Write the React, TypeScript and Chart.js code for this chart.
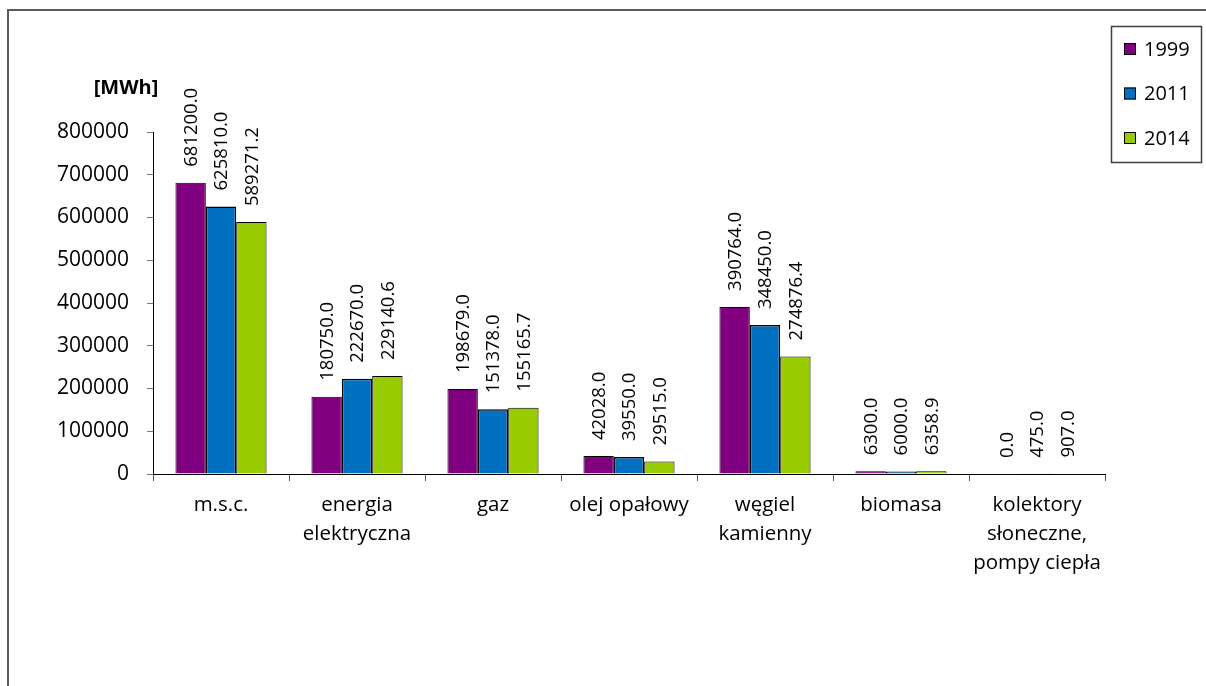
import React, { useEffect, useRef } from "react";
import { Chart, registerables } from "chart.js";

Chart.register(...registerables);

const categories: string[][] = [
  ["m.s.c."],
  ["energia", "elektryczna"],
  ["gaz"],
  ["olej opałowy"],
  ["węgiel", "kamienny"],
  ["biomasa"],
  ["kolektory", "słoneczne,", "pompy ciepła"],
];
const seriesNames = ["1999", "2011", "2014"];
const values1999 = [681200.0, 180750.0, 198679.0, 42028.0, 390764.0, 6300.0, 0.0];
const values2011 = [625810.0, 222670.0, 151378.0, 39550.0, 348450.0, 6000.0, 475.0];
const values2014 = [589271.2, 229140.6, 155165.7, 29515.0, 274876.4, 6358.9, 907.0];
const yMin = 0;
const yMax = 800000;
const yStep = 100000;
const unitLabel = "[MWh]";

const colors = ["#800080", "#0070C0", "#99CC00"];
const FONT = "'Open Sans', sans-serif";

const frame = {
  id: "frame",
  beforeDraw(chart: any) {
    const ctx = chart.ctx;
    ctx.save();
    ctx.fillStyle = "#fff";
    ctx.fillRect(0, 0, chart.width, chart.height);
    ctx.strokeStyle = "#5a5a5a";
    ctx.lineWidth = 2;
    ctx.beginPath();
    ctx.moveTo(8, chart.height);
    ctx.lineTo(8, 10);
    ctx.lineTo(chart.width, 10);
    ctx.stroke();
    ctx.restore();
  },
};

const extras = {
  id: "extras",
  afterDatasetsDraw(chart: any) {
    const ctx = chart.ctx;
    ctx.save();
    // data labels
    ctx.fillStyle = "#000";
    ctx.font = `18.5px ${FONT}`;
    ctx.textAlign = "left";
    ctx.textBaseline = "middle";
    chart.data.datasets.forEach((ds: any, di: number) => {
      const meta = chart.getDatasetMeta(di);
      meta.data.forEach((el: any, i: number) => {
        const v = ds.data[i] as number;
        ctx.save();
        ctx.translate(el.x + 1, el.y - 16);
        ctx.rotate(-Math.PI / 2);
        ctx.fillText(v.toFixed(1), 0, 0);
        ctx.restore();
      });
    });
    // unit label
    ctx.font = `bold 20px ${FONT}`;
    ctx.textAlign = "center";
    ctx.textBaseline = "middle";
    ctx.fillText(unitLabel, 126, 88);
    // legend
    const lx = 1111, ly = 26, lw = 90, lh = 136;
    ctx.strokeStyle = "#404040";
    ctx.lineWidth = 1.5;
    ctx.strokeRect(lx + 0.5, ly + 0.5, lw, lh);
    ctx.font = `20px ${FONT}`;
    ctx.textAlign = "left";
    seriesNames.forEach((name, i) => {
      const cy = 49 + i * 44.5;
      ctx.fillStyle = colors[i];
      ctx.fillRect(1124, cy - 6, 12, 12);
      ctx.strokeStyle = "#000";
      ctx.lineWidth = 1;
      ctx.strokeRect(1124.5, cy - 5.5, 11, 11);
      ctx.fillStyle = "#000";
      ctx.fillText(name, 1144, cy + 1);
    });
    ctx.restore();
  },
};

export default function App() {
  const ref = useRef<HTMLCanvasElement | null>(null);
  useEffect(() => {
    if (!ref.current) return;
    const series = [values1999, values2011, values2014];
    const chart = new Chart(ref.current, {
      type: "bar",
      data: {
        labels: categories,
        datasets: series.map((d, i) => ({
          label: seriesNames[i],
          data: d,
          backgroundColor: colors[i],
          borderColor: "#000",
          borderWidth: i === 1 ? 1.5 : 1,
          categoryPercentage: 0.67,
          barPercentage: 1,
        })),
      },
      options: {
        responsive: false,
        animation: false,
        devicePixelRatio: 1,
        layout: { padding: { left: 0, right: 101, top: 132, bottom: 0 } },
        plugins: { legend: { display: false }, tooltip: { enabled: false } },
        scales: {
          x: {
            afterFit: (s: any) => {
              s.height = 686 - 474;
            },
            border: { color: "#000", width: 1 },
            grid: {
              display: true,
              drawOnChartArea: false,
              drawTicks: true,
              tickLength: 7,
              color: "#555",
              offset: true,
            },
            ticks: {
              color: "#000",
              font: { family: FONT, size: 20.5, lineHeight: 1.41 },
              padding: 10,
              maxRotation: 0,
              autoSkip: false,
            },
          },
          y: {
            min: yMin,
            max: yMax,
            afterFit: (s: any) => {
              s.width = 153;
            },
            border: { color: "#000", width: 1 },
            grid: {
              display: true,
              drawOnChartArea: false,
              drawTicks: true,
              tickLength: 6,
              color: "#777",
            },
            ticks: {
              stepSize: yStep,
              color: "#000",
              font: { family: FONT, size: 21 },
              padding: 18,
              callback: (v: any) => String(v),
            },
          },
        },
      },
      plugins: [frame, extras],
    });
    return () => chart.destroy();
  }, []);
  return (
    <div style={{ position: "fixed", left: 0, top: 0, width: 1206, height: 686, background: "#fff" }}>
      <canvas ref={ref} width={1206} height={686} style={{ display: "block" }} />
    </div>
  );
}
